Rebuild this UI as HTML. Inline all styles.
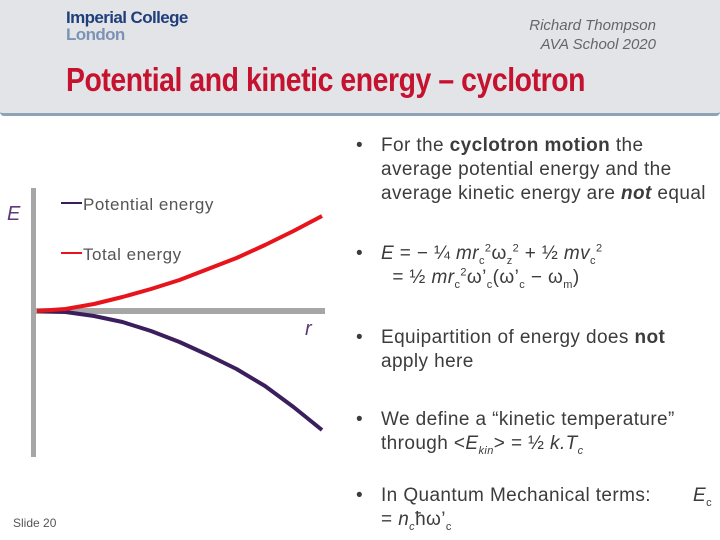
<!DOCTYPE html>
<html><head><meta charset="utf-8"><style>
body{margin:0}
#s{position:relative;width:720px;height:540px;background:#fff;overflow:hidden;font-family:"Liberation Sans",sans-serif;color:#3c3c3c}
.a{position:absolute;white-space:nowrap}
.t{font-size:19px;line-height:24px;letter-spacing:0.4px}
sub,sup{font-size:11px;line-height:0}
</style></head><body>
<div id="s">
<div class="a" style="left:0;top:0;width:720px;height:113px;background:#e3e4e8;border-bottom:3px solid #8ea3b8;border-radius:0 0 4px 4px"></div>
<div class="a" style="left:66px;top:9px;font-size:17px;line-height:17px;letter-spacing:-0.6px;font-weight:bold"><span style="color:#1f3f7a">Imperial College</span><br><span style="color:#7d93b5">London</span></div>
<div class="a" style="right:64px;top:16px;font-size:15px;line-height:19px;text-align:right;font-style:italic;color:#666">Richard Thompson<br>AVA School 2020</div>
<div class="a" style="left:66px;top:61px;font-size:33px;font-weight:bold;color:#c4122f;transform:scaleX(0.86);transform-origin:left;letter-spacing:-0.5px">Potential and kinetic energy – cyclotron</div>

<svg class="a" style="left:0;top:0" width="340" height="480">
<rect x="31" y="188" width="5" height="269" fill="#a6a6a6"/>
<rect x="35" y="308" width="290" height="6" fill="#a6a6a6"/>
<g id="curves"></g>
<line x1="61" y1="203" x2="82" y2="203" stroke="#3b1f5c" stroke-width="2"/>
<line x1="61" y1="253" x2="82" y2="253" stroke="#e8141c" stroke-width="2"/>
<text x="83" y="210" font-size="17" letter-spacing="0.5" fill="#555" font-family="Liberation Sans">Potential energy</text>
<text x="83" y="260" font-size="17" letter-spacing="0.5" fill="#555" font-family="Liberation Sans">Total energy</text>
<text x="7" y="220" font-size="20" font-style="italic" fill="#5a3a7a" font-family="Liberation Sans">E</text>
<text x="305" y="335" font-size="20" font-style="italic" fill="#5a3a7a" font-family="Liberation Sans">r</text>
</svg>

<div class="a t" style="left:356px;top:134px">•</div>
<div class="a t" style="left:381px;top:134px">For the <b>cyclotron motion</b> the<br>average potential energy and the<br>average kinetic energy are <b><i>not</i></b> equal</div>
<div class="a t" style="left:356px;top:242px">•</div>
<div class="a t" style="left:381px;top:242px"><i>E</i> = − ¼ <i>mr</i><sub>c</sub><sup>2</sup>ω<sub>z</sub><sup>2</sup> + ½ <i>mv</i><sub>c</sub><sup>2</sup><br>&nbsp;&nbsp;= ½ <i>mr</i><sub>c</sub><sup>2</sup>ω’<sub>c</sub>(ω’<sub>c</sub> − ω<sub>m</sub>)</div>
<div class="a t" style="left:356px;top:326px">•</div>
<div class="a t" style="left:381px;top:326px">Equipartition of energy does <b>not</b><br>apply here</div>
<div class="a t" style="left:356px;top:408px">•</div>
<div class="a t" style="left:381px;top:408px">We define a “kinetic temperature”<br>through &lt;<i>E<sub>kin</sub></i>&gt; = ½ <i>k.T<sub>c</sub></i></div>
<div class="a t" style="left:356px;top:484px">•</div>
<div class="a t" style="left:381px;top:484px">In Quantum Mechanical terms:<br>= <i>n<sub>c</sub></i>ħω’<sub>c</sub></div>
<div class="a t" style="left:693px;top:484px"><i>E</i><sub>c</sub></div>
<div class="a" style="left:13px;top:516px;font-size:12px;color:#555">Slide 20</div>
</div>
<script>
const rVals=[0,0.1,0.2,0.3,0.4,0.5,0.6,0.7,0.8,0.9,1.0];
const totalE=[0,2,7,14,22,31,42,53,66,80,95];
const potentialE=[0,-1,-5,-11,-20,-31,-44,-58,-75,-96,-119];
const sx=r=>37+r*285;
const sy=e=>311-e;
const g=document.getElementById('curves');
function draw(vals,color,name){
  const p=document.createElementNS('http://www.w3.org/2000/svg','polyline');
  p.setAttribute('points',rVals.map((r,i)=>sx(r)+','+sy(vals[i])).join(' '));
  p.setAttribute('fill','none');p.setAttribute('stroke',color);p.setAttribute('stroke-width','4');
  p.setAttribute('stroke-linejoin','round');
  
  
  g.appendChild(p);
}
draw(potentialE,'#3b1f5c','potential-energy-line');
draw(totalE,'#e8141c','total-energy-line');
</script>
</body></html>
